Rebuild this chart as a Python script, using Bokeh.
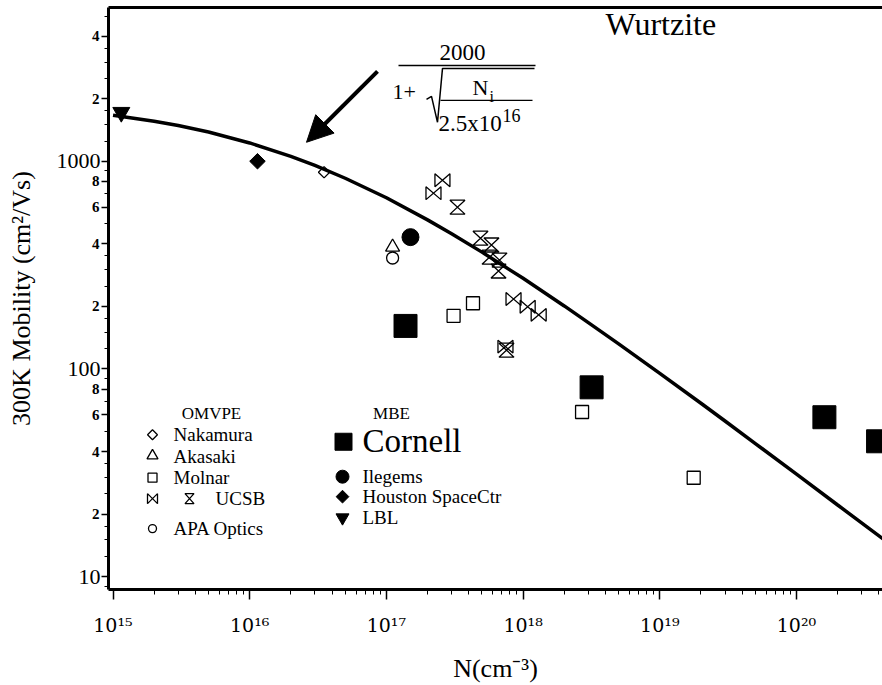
import numpy as np
from bokeh.plotting import figure
from bokeh.models import LogAxis, FixedTicker, Range1d, Arrow, NormalHead
from bokeh.core.properties import value
from bokeh.embed import file_html
from bokeh.resources import INLINE

# ---------------- data ----------------
fit_N = [1e15, 2e15, 3e15, 5e15, 1e16, 2e16, 3e16, 5e16, 1e17, 2e17, 3e17, 5e17,
         1e18, 2e18, 3e18, 5e18, 1e19, 2e19, 3e19, 5e19, 1e20, 2e20, 4.4e20]
fit_mu = [1667, 1559, 1486, 1382, 1225, 1056, 955, 828, 667, 522, 448, 365,
          273, 201, 167, 132, 95.2, 68.3, 56.1, 43.7, 31.1, 22.1, 15.0]

nakamura_N = [3.5e16]
nakamura_mu = [885]
akasaki_N = [1.11e17]
akasaki_mu = [386]
apa_N = [1.11e17]
apa_mu = [342]
molnar_N = [3.1e17, 4.3e17, 2.7e18, 1.77e19]
molnar_mu = [180, 207, 62, 29.9]
ucsb_bowtie_N = [2.21e17, 2.57e17, 7.43e17, 8.51e17, 1.08e18, 1.30e18]
ucsb_bowtie_mu = [702, 810, 128, 217, 199, 182]
ucsb_hourglass_N = [3.31e17, 4.88e17, 5.87e17, 5.68e17, 6.72e17, 6.61e17, 7.56e17]
ucsb_hourglass_mu = [601, 426, 395, 345, 334, 296, 123]
cornell_N = [1.38e17, 3.17e18, 1.60e20, 3.95e20]
cornell_mu = [161, 81.5, 58.5, 44.8]
ilegems_N = [1.5e17]
ilegems_mu = [431]
houston_N = [1.14e16]
houston_mu = [1000]
lbl_N = [1.15e15]
lbl_mu = [1720]

x_ticks = [1e15, 1e16, 1e17, 1e18, 1e19, 1e20]
x_tick_labels = ["10¹⁵", "10¹⁶", "10¹⁷", "10¹⁸", "10¹⁹", "10²⁰"]
y_small_ticks = [20, 40, 60, 80, 200, 400, 600, 800, 2000, 4000]
y_small_labels = ["2", "4", "6", "8", "2", "4", "6", "8", "2", "4"]
y_big_ticks = [10, 100, 1000]
y_big_labels = ["10", "100", "1000"]

# ---------------- layout helpers ----------------
X0, DEC_X = 112.5, 136.7   # page x of 1e15, pixels per decade
Y0, DEC_Y = 161.0, 208.0   # page y of 1000, pixels per decade
ROT = np.pi / 4


def fx(px):
    return 10 ** (15 + (px - X0) / DEC_X)


def fy(py):
    return 10 ** (3 - (py - Y0) / DEC_Y)


SERIF = value("Liberation Serif")

p = figure(width=882, height=685, x_axis_type="log", y_axis_type="log",
           x_range=Range1d(fx(108), fx(882)), y_range=Range1d(fy(590), fy(7)),
           output_backend="svg", toolbar_location=None,
           min_border_left=108, min_border_right=0, min_border_top=7,
           min_border_bottom=95)
p.outline_line_color = None
p.xgrid.visible = False
p.ygrid.visible = False
p.background_fill_color = "white"
p.border_fill_color = "white"

# bottom axis
xminor = [k * 10.0 ** d for d in range(14, 21) for k in range(2, 10)]
xa = p.xaxis[0]
xa.ticker = FixedTicker(ticks=x_ticks, minor_ticks=xminor)
xa.major_label_overrides = {t: l for t, l in zip(x_ticks, x_tick_labels)}
xa.axis_line_width = 3
xa.major_tick_out = 10
xa.major_tick_in = 0
xa.minor_tick_out = 5
xa.minor_tick_in = 0
xa.major_tick_line_width = 1.5
xa.major_label_standoff = 14
xa.major_label_text_font = "DejaVu Serif"
xa.major_label_text_font_size = "19px"
xa.major_label_text_color = "black"
xa.axis_label = "N(cm⁻³)"
xa.axis_label_text_font = "Liberation Serif"
xa.axis_label_text_font_size = "26px"
xa.axis_label_text_font_style = "normal"
xa.axis_label_text_color = "black"
xa.axis_label_standoff = 15

# inner left axis: small labels 2,4,6,8
yminor = [k * 10.0 ** d for d in range(0, 4) for k in (1.25, 1.5, 1.75, 2.5, 3, 3.5, 5, 7, 9)]
ya = p.yaxis[0]
ya.ticker = FixedTicker(ticks=y_small_ticks + y_big_ticks, minor_ticks=yminor)
ov = {t: l for t, l in zip(y_small_ticks, y_small_labels)}
ov.update({t: "" for t in y_big_ticks})
ya.major_label_overrides = ov
ya.axis_line_width = 3
ya.major_tick_out = 7
ya.major_tick_in = 0
ya.minor_tick_out = 4
ya.minor_tick_in = 0
ya.major_tick_line_width = 1.5
ya.major_label_standoff = 2
ya.major_label_text_font = "Liberation Serif"
ya.major_label_text_font_size = "15px"
ya.major_label_text_font_style = "bold"
ya.major_label_text_color = "black"

# outer left axis: decade labels + title
outer = LogAxis(ticker=FixedTicker(ticks=y_big_ticks, minor_ticks=[]),
                major_label_overrides={t: l for t, l in zip(y_big_ticks, y_big_labels)},
                axis_line_color=None, major_tick_line_color=None,
                minor_tick_line_color=None, major_tick_out=0, major_tick_in=0,
                minor_tick_out=0, minor_tick_in=0, major_label_standoff=-12,
                major_label_text_font="Liberation Serif",
                major_label_text_font_size="22px", major_label_text_color="black",
                axis_label="300K Mobility (cm²/Vs)",
                axis_label_text_font="Liberation Serif",
                axis_label_text_font_size="26px",
                axis_label_text_font_style="normal",
                axis_label_text_color="black", axis_label_standoff=18)
p.add_layout(outer, "left")

# top border
top = LogAxis(ticker=FixedTicker(ticks=[], minor_ticks=[]), axis_line_width=3,
              major_tick_out=0, major_tick_in=0, minor_tick_out=0, minor_tick_in=0,
              major_label_standoff=0, major_label_text_font_size="0px")
p.add_layout(top, "above")

# ---------------- fit curve ----------------
p.line(fit_N, fit_mu, line_color="black", line_width=3.5)


# ---------------- custom bowtie / hourglass markers ----------------
def shape_patches(xs, ys, hw, hh, kind):
    a = 10 ** (hw / DEC_X)
    b = 10 ** (hh / DEC_Y)
    px, py = [], []
    for x, y in zip(xs, ys):
        if kind == "bowtie":
            px.append([x / a, x * a, x * a, x / a])
            py.append([y * b, y / b, y * b, y / b])
        else:
            px.append([x / a, x * a, x / a, x * a])
            py.append([y * b, y * b, y / b, y / b])
    return px, py


bx, by = shape_patches(ucsb_bowtie_N, ucsb_bowtie_mu, 7.5, 6.5, "bowtie")
p.patches(bx, by, fill_color=None, line_color="black", line_width=1.3)
hx, hy = shape_patches(ucsb_hourglass_N, ucsb_hourglass_mu, 7.5, 7, "hourglass")
p.patches(hx, hy, fill_color=None, line_color="black", line_width=1.3)

# ---------------- data markers ----------------
p.scatter(nakamura_N, nakamura_mu, marker="square", angle=ROT, size=8,
          fill_color=None, line_color="black", line_width=1.3)
p.scatter(akasaki_N, akasaki_mu, marker="triangle", size=14, fill_color=None,
          line_color="black", line_width=1.3)
p.scatter(apa_N, apa_mu, marker="circle", size=12, fill_color=None,
          line_color="black", line_width=1.3)
p.scatter(molnar_N, molnar_mu, marker="square", size=13, fill_color=None,
          line_color="black", line_width=1.3)
p.scatter(cornell_N, cornell_mu, marker="square", size=23, fill_color="black",
          line_color="black")
p.scatter(ilegems_N, ilegems_mu, marker="circle", size=17, fill_color="black",
          line_color="black")
p.scatter(houston_N, houston_mu, marker="square", angle=ROT, size=11,
          fill_color="black", line_color="black")
p.scatter(lbl_N, lbl_mu, marker="inverted_triangle", size=17, fill_color="black",
          line_color="black")

# ---------------- formula annotation ----------------
p.add_layout(Arrow(end=NormalHead(size=26, fill_color="black", line_color="black"),
                   x_start=fx(377), y_start=fy(71), x_end=fx(306), y_end=fy(142),
                   line_width=4, line_color="black"))
p.text([fx(462)], [fy(52)], ["2000"], text_font=SERIF, text_font_size="23px",
       text_align="center", text_baseline="middle", text_color="black")
p.line([fx(398), fx(535)], [fy(65), fy(65)], line_color="black", line_width=1.5)
p.text([fx(392)], [fy(92)], ["1+"], text_font=SERIF, text_font_size="22px",
       text_align="left", text_baseline="middle", text_color="black")
p.line([fx(426), fx(431), fx(437), fx(442), fx(534)],
       [fy(99), fy(96), fy(122), fy(68), fy(68)], line_color="black", line_width=1.5)
p.text([fx(472)], [fy(87)], ["N"], text_font=SERIF, text_font_size="22px",
       text_align="left", text_baseline="middle", text_color="black")
p.text([fx(489)], [fy(96)], ["i"], text_font=SERIF, text_font_size="16px",
       text_align="left", text_baseline="middle", text_color="black")
p.line([fx(440), fx(532)], [fy(100), fy(100)], line_color="black", line_width=1.3)
p.text([fx(438)], [fy(123)], ["2.5x10"], text_font=SERIF, text_font_size="23px",
       text_align="left", text_baseline="middle", text_color="black")
p.text([fx(502)], [fy(115)], ["16"], text_font=SERIF, text_font_size="18px",
       text_align="left", text_baseline="middle", text_color="black")
p.text([fx(605)], [fy(24)], ["Wurtzite"], text_font=SERIF, text_font_size="32px",
       text_align="left", text_baseline="middle", text_color="black")

# ---------------- legend block ----------------
p.text([fx(211), fx(391)], [fy(414), fy(414)], ["OMVPE", "MBE"], text_font=SERIF,
       text_font_size="17px", text_align="center", text_baseline="middle",
       text_color="black")
p.text([fx(173), fx(173), fx(173), fx(215), fx(173)],
       [fy(435), fy(457), fy(478), fy(499), fy(529)],
       ["Nakamura", "Akasaki", "Molnar", "UCSB", "APA Optics"], text_font=SERIF,
       text_font_size="19px", text_align="left", text_baseline="middle",
       text_color="black")
p.text([fx(362)], [fy(441)], ["Cornell"], text_font=SERIF, text_font_size="33px",
       text_align="left", text_baseline="middle", text_color="black")
p.text([fx(362), fx(362), fx(362)], [fy(477), fy(497), fy(518)],
       ["Ilegems", "Houston SpaceCtr", "LBL"], text_font=SERIF,
       text_font_size="19px", text_align="left", text_baseline="middle",
       text_color="black")

p.scatter([fx(152)], [fy(435)], marker="square", angle=ROT, size=7, fill_color=None,
          line_color="black", line_width=1.3)
p.scatter([fx(152)], [fy(456)], marker="triangle", size=11, fill_color=None,
          line_color="black", line_width=1.3)
p.scatter([fx(152)], [fy(478)], marker="square", size=9, fill_color=None,
          line_color="black", line_width=1.3)
p.scatter([fx(152)], [fy(529)], marker="circle", size=8, fill_color=None,
          line_color="black", line_width=1.3)
lbx, lby = shape_patches([fx(152)], [fy(499)], 5, 5, "bowtie")
p.patches(lbx, lby, fill_color=None, line_color="black", line_width=1.3)
lhx, lhy = shape_patches([fx(189)], [fy(499)], 4.5, 5, "hourglass")
p.patches(lhx, lhy, fill_color=None, line_color="black", line_width=1.3)

p.scatter([fx(343)], [fy(442)], marker="square", size=17, fill_color="black",
          line_color="black")
p.scatter([fx(342)], [fy(477)], marker="circle", size=13, fill_color="black",
          line_color="black")
p.scatter([fx(342)], [fy(497)], marker="square", angle=ROT, size=9,
          fill_color="black", line_color="black")
p.scatter([fx(342)], [fy(518)], marker="inverted_triangle", size=13,
          fill_color="black", line_color="black")

open("out.html", "w").write(file_html(p, INLINE))
